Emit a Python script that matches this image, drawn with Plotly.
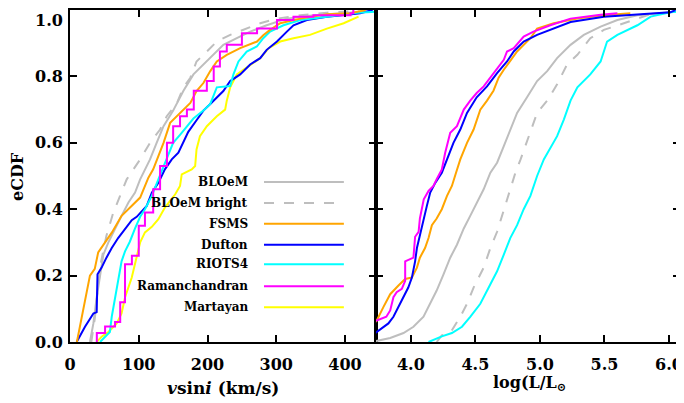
import plotly.graph_objects as go

# ---------------- data ----------------
# Left panel: vsini (km/s) vs eCDF
bloem_v_x = [29, 34, 38.8, 43.7, 48.5, 55.8, 65.5, 75, 85, 94.6, 102, 109, 116.4, 126, 136, 150, 165, 179.5, 194, 208.6, 223, 242.6, 262, 286, 315, 354, 403, 441]
bloem_v_y = [0.0, 0.056, 0.134, 0.204, 0.263, 0.30, 0.342, 0.38, 0.42, 0.45, 0.49, 0.52, 0.55, 0.60, 0.65, 0.697, 0.757, 0.806, 0.836, 0.865, 0.895, 0.915, 0.935, 0.954, 0.974, 0.984, 0.992, 0.997]

bright_v_x = [31, 36, 40, 45, 53, 63, 72.8, 82.5, 102, 116.4, 131, 140.7, 155, 165, 175, 184, 199, 213.5, 233, 257, 276.6, 301, 335, 373.6, 420]
bright_v_y = [0.0, 0.07, 0.15, 0.24, 0.32, 0.39, 0.44, 0.49, 0.55, 0.60, 0.64, 0.68, 0.717, 0.767, 0.796, 0.845, 0.875, 0.905, 0.925, 0.944, 0.96, 0.974, 0.984, 0.992, 0.997]

fsms_v_x = [10, 21.8, 29, 36, 41, 51, 61, 75, 90, 102, 114, 121, 128.5, 136, 145.6, 160, 175, 184, 194, 204, 213.5, 228, 247.5, 272, 281, 291, 305.7, 335, 373.6, 407.6, 430]
fsms_v_y = [0.0, 0.12, 0.20, 0.22, 0.27, 0.30, 0.33, 0.38, 0.41, 0.435, 0.495, 0.52, 0.56, 0.60, 0.66, 0.69, 0.72, 0.756, 0.78, 0.816, 0.845, 0.865, 0.885, 0.905, 0.924, 0.94, 0.96, 0.974, 0.987, 0.99, 1.0]

dufton_v_x = [9.7, 21.8, 34, 38.8, 40, 46, 53, 60.7, 70, 80, 89.8, 97, 106.7, 111.6, 119, 128.5, 138, 148, 157.6, 165, 172, 184, 194, 204, 213.5, 223, 233, 247.5, 262, 276.6, 286, 301, 315, 325, 344.5, 373.6, 402.8, 422, 440]
dufton_v_y = [0.0, 0.046, 0.086, 0.09, 0.204, 0.224, 0.254, 0.283, 0.313, 0.342, 0.367, 0.377, 0.397, 0.41, 0.45, 0.48, 0.52, 0.55, 0.57, 0.60, 0.633, 0.668, 0.697, 0.717, 0.737, 0.756, 0.786, 0.806, 0.836, 0.855, 0.88, 0.905, 0.934, 0.954, 0.97, 0.98, 0.986, 0.99, 1.0]

riots_v_x = [43.7, 58, 60.7, 65.5, 70.3, 75, 80, 87, 94.6, 102, 109, 119, 128.5, 140.7, 150, 160, 170, 179.5, 194, 204, 213.5, 233, 237.7, 245, 257, 271.7, 281, 291, 310.5, 335, 373.6, 417, 445]
riots_v_y = [0.0, 0.03, 0.076, 0.134, 0.184, 0.243, 0.273, 0.302, 0.342, 0.377, 0.40, 0.44, 0.49, 0.55, 0.60, 0.624, 0.65, 0.673, 0.697, 0.717, 0.767, 0.771, 0.806, 0.845, 0.875, 0.89, 0.915, 0.935, 0.954, 0.97, 0.98, 0.992, 0.995]

raman_v_x = [38, 39, 51, 65.5, 73, 80, 90, 100, 109, 121, 131, 141, 150, 160, 170, 180, 199, 209, 218, 228, 250, 272, 301, 325, 354, 408, 412]
raman_v_y = [0.0, 0.027, 0.047, 0.06, 0.12, 0.234, 0.26, 0.35, 0.39, 0.46, 0.53, 0.60, 0.65, 0.68, 0.70, 0.757, 0.786, 0.83, 0.875, 0.895, 0.93, 0.944, 0.97, 0.98, 0.984, 0.99, 1.0]

marta_v_x = [38.8, 46, 55.8, 68, 75, 80, 89.8, 97, 102, 109, 119, 128.5, 138, 153, 160, 162.5, 177, 182, 184, 189, 199, 213.5, 225.6, 228, 233, 242.6, 257, 276.6, 289, 305.7, 325, 349, 373.6, 398, 419.6]
marta_v_y = [0.0, 0.016, 0.03, 0.056, 0.086, 0.134, 0.194, 0.254, 0.30, 0.33, 0.347, 0.37, 0.405, 0.445, 0.47, 0.505, 0.52, 0.53, 0.58, 0.62, 0.65, 0.68, 0.70, 0.727, 0.767, 0.806, 0.826, 0.855, 0.885, 0.905, 0.915, 0.925, 0.944, 0.96, 0.98]

# Right panel: log(L/Lsun) vs eCDF
bloem_l_x = [3.70, 3.84, 3.943, 4.02, 4.098, 4.15, 4.2, 4.253, 4.305, 4.357, 4.41, 4.46, 4.51, 4.564, 4.616, 4.668, 4.72, 4.77, 4.823, 4.9, 4.978, 5.056, 5.133, 5.237, 5.34, 5.47, 5.6, 5.755, 6.01, 6.2]
bloem_l_y = [0.0, 0.012, 0.027, 0.046, 0.076, 0.115, 0.155, 0.204, 0.254, 0.293, 0.342, 0.38, 0.42, 0.46, 0.51, 0.54, 0.59, 0.64, 0.69, 0.737, 0.786, 0.816, 0.855, 0.895, 0.925, 0.95, 0.97, 0.984, 0.994, 1.0]

bright_l_x = [4.2, 4.24, 4.305, 4.383, 4.435, 4.486, 4.564, 4.616, 4.668, 4.72, 4.77, 4.81, 4.85, 4.926, 4.978, 5.056, 5.133, 5.21, 5.29, 5.39, 5.495, 5.65, 5.83, 6.05]
bright_l_y = [0.0, 0.02, 0.027, 0.076, 0.115, 0.164, 0.224, 0.283, 0.332, 0.40, 0.46, 0.51, 0.55, 0.63, 0.69, 0.727, 0.776, 0.836, 0.865, 0.915, 0.94, 0.96, 0.984, 0.995]

fsms_l_x = [3.70, 3.736, 3.787, 3.84, 3.904, 3.956, 4.008, 4.047, 4.07, 4.11, 4.137, 4.163, 4.2, 4.24, 4.28, 4.318, 4.35, 4.383, 4.435, 4.486, 4.538, 4.59, 4.64, 4.68, 4.72, 4.77, 4.823, 4.926, 4.978, 5.107, 5.29, 5.495, 5.7]
fsms_l_y = [0.05, 0.065, 0.105, 0.144, 0.17, 0.19, 0.194, 0.224, 0.254, 0.283, 0.313, 0.352, 0.372, 0.40, 0.44, 0.47, 0.51, 0.55, 0.60, 0.64, 0.70, 0.727, 0.757, 0.796, 0.82, 0.845, 0.875, 0.915, 0.944, 0.96, 0.974, 0.984, 0.99]

dufton_l_x = [3.70, 3.736, 3.787, 3.826, 3.865, 3.904, 3.943, 3.98, 4.008, 4.033, 4.047, 4.07, 4.098, 4.124, 4.15, 4.19, 4.24, 4.28, 4.33, 4.383, 4.435, 4.51, 4.59, 4.668, 4.745, 4.797, 4.874, 4.978, 5.107, 5.237, 5.495, 5.755, 6.01, 6.05]
dufton_l_y = [0.02, 0.03, 0.046, 0.056, 0.076, 0.105, 0.135, 0.164, 0.194, 0.243, 0.283, 0.322, 0.372, 0.41, 0.45, 0.48, 0.51, 0.55, 0.60, 0.64, 0.69, 0.737, 0.77, 0.81, 0.845, 0.875, 0.905, 0.925, 0.944, 0.964, 0.98, 0.986, 0.993, 1.0]

riots_l_x = [4.137, 4.24, 4.318, 4.396, 4.46, 4.538, 4.616, 4.668, 4.72, 4.77, 4.823, 4.874, 4.926, 4.978, 5.03, 5.133, 5.185, 5.237, 5.29, 5.39, 5.47, 5.52, 5.6, 5.755, 5.858, 5.96, 6.01, 6.2]
riots_l_y = [0.0, 0.017, 0.027, 0.046, 0.076, 0.115, 0.174, 0.213, 0.263, 0.313, 0.352, 0.40, 0.44, 0.50, 0.55, 0.62, 0.67, 0.727, 0.767, 0.806, 0.845, 0.905, 0.925, 0.954, 0.98, 0.99, 0.993, 1.0]

raman_l_x = [3.70, 3.736, 3.81, 3.84, 3.865, 3.89, 3.93, 3.956, 3.956, 4.02, 4.033, 4.06, 4.07, 4.1, 4.137, 4.175, 4.2, 4.24, 4.266, 4.305, 4.357, 4.41, 4.46, 4.51, 4.564, 4.64, 4.72, 4.745, 4.797, 4.874, 4.95, 5.08, 5.237, 5.47, 5.6]
raman_l_y = [0.065, 0.065, 0.076, 0.095, 0.135, 0.15, 0.16, 0.184, 0.243, 0.254, 0.317, 0.332, 0.372, 0.43, 0.455, 0.47, 0.49, 0.52, 0.57, 0.63, 0.65, 0.70, 0.727, 0.75, 0.77, 0.81, 0.85, 0.875, 0.885, 0.92, 0.935, 0.954, 0.974, 0.986, 0.99]

x_ticks_v = [0, 100, 200, 300, 400]
x_ticks_l = [4.0, 4.5, 5.0, 5.5, 6.0]
x_tick_labels_l = ["4.0", "4.5", "5.0", "5.5", "6.0"]
y_ticks = [0.0, 0.2, 0.4, 0.6, 0.8]
y_tick_labels = ["0.0", "0.2", "0.4", "0.6", "0.8"]
y_top_label = "1.0"

legend_names = ["BLOeM", "BLOeM bright", "FSMS", "Dufton", "RIOTS4", "Ramanchandran", "Martayan"]

# ---------------- styles ----------------
GRAY = "#BEBEBE"
ORANGE = "#FFA500"
BLUE = "#0000FF"
CYAN = "#00FFFF"
MAGENTA = "#FF00FF"
YELLOW = "#FFFF00"
FONT = "DejaVu Serif"
LW = 2

styles = {
    "BLOeM": dict(color=GRAY, dash="solid"),
    "BLOeM bright": dict(color=GRAY, dash="10px,10px"),
    "FSMS": dict(color=ORANGE, dash="solid"),
    "Dufton": dict(color=BLUE, dash="solid"),
    "RIOTS4": dict(color=CYAN, dash="solid"),
    "Ramanchandran": dict(color=MAGENTA, dash="solid"),
    "Martayan": dict(color=YELLOW, dash="solid"),
}

fig = go.Figure()

left = [
    ("BLOeM", bloem_v_x, bloem_v_y, "linear"),
    ("BLOeM bright", bright_v_x, bright_v_y, "linear"),
    ("Martayan", marta_v_x, marta_v_y, "linear"),
    ("Dufton", dufton_v_x, dufton_v_y, "linear"),
    ("RIOTS4", riots_v_x, riots_v_y, "linear"),
    ("FSMS", fsms_v_x, fsms_v_y, "linear"),
    ("Ramanchandran", raman_v_x, raman_v_y, "hv"),
]
for name, xs, ys, shape in left:
    st = styles[name]
    fig.add_trace(go.Scatter(x=xs, y=ys, mode="lines", name=name, showlegend=False,
                             line=dict(color=st["color"], dash=st["dash"], width=LW, shape=shape),
                             xaxis="x", yaxis="y", hoverinfo="skip"))

right = [
    ("BLOeM", bloem_l_x, bloem_l_y),
    ("BLOeM bright", bright_l_x, bright_l_y),
    ("RIOTS4", riots_l_x, riots_l_y),
    ("FSMS", fsms_l_x, fsms_l_y),
    ("Dufton", dufton_l_x, dufton_l_y),
    ("Ramanchandran", raman_l_x, raman_l_y),
]
for name, xs, ys in right:
    st = styles[name]
    fig.add_trace(go.Scatter(x=xs, y=ys, mode="lines", name=name, showlegend=False,
                             line=dict(color=st["color"], dash=st["dash"], width=LW),
                             xaxis="x2", yaxis="y2", hoverinfo="skip"))

# manual legend (text to the left of the line sample)
leg_y = [0.482, 0.419, 0.356, 0.293, 0.234, 0.168, 0.105]
shapes = []
annotations = []
for name, yy in zip(legend_names, leg_y):
    st = styles[name]
    shapes.append(dict(type="line", xref="x domain", yref="y domain", x0=0.634, x1=0.895,
                       y0=yy, y1=yy, line=dict(color=st["color"], width=LW, dash=st["dash"])))
    annotations.append(dict(text=name, xref="x domain", yref="y domain", x=0.588, y=yy,
                            xanchor="right", yanchor="middle", showarrow=False,
                            font=dict(family=FONT, size=12, color="black", weight="bold")))

# top y tick label (placed just below the figure edge, as in the reference)
annotations.append(dict(text=y_top_label, xref="paper", yref="paper", x=0, y=1,
                        xanchor="right", yanchor="middle", xshift=-6, yshift=-10, borderpad=0,
                        showarrow=False,
                        font=dict(family=FONT, size=16, color="black", weight="bold")))

# axis titles
annotations.append(dict(text="eCDF", xref="paper", yref="paper", x=-0.0852, y=0.497,
                        textangle=-90, showarrow=False, xanchor="center", yanchor="middle",
                        font=dict(family=FONT, size=16, color="black", weight="bold")))
annotations.append(dict(text="<i>v</i>sin<i>i</i> (km/s)", xref="x domain", yref="paper", x=0.5, y=-0.14,
                        showarrow=False, xanchor="center", yanchor="middle",
                        font=dict(family=FONT, size=17, color="black", weight="bold")))
annotations.append(dict(text="log(L/L<sub>⊙</sub>", xref="x2 domain", yref="paper", x=0.506, y=-0.126,
                        showarrow=False, xanchor="center", yanchor="middle",
                        font=dict(family=FONT, size=16, color="black", weight="bold")))

axis_common = dict(showline=True, linecolor="black", linewidth=2, mirror="ticks",
                   ticks="inside", ticklen=7, tickwidth=2, tickcolor="black",
                   showgrid=False, zeroline=False,
                   tickfont=dict(family=FONT, size=16, color="black", weight="bold"))

split = 306 / 610
# the page body adds an 8px offset, so the figure is 8px smaller and margins shifted
fig.update_layout(
    width=676, height=395,
    margin=dict(l=62, r=4, t=0, b=61),
    paper_bgcolor="white", plot_bgcolor="white",
    showlegend=False,
    xaxis=dict(domain=[0, split], range=[0, 445], tickvals=x_ticks_v, anchor="y",
               ticklabelstandoff=7, **axis_common),
    yaxis=dict(domain=[0, 1], range=[0, 1.0], tickvals=y_ticks, ticktext=y_tick_labels, anchor="x",
               ticklabelstandoff=2, **axis_common),
    xaxis2=dict(domain=[split, 1], range=[3.73, 6.085], tickvals=x_ticks_l, ticktext=x_tick_labels_l, anchor="y2",
                ticklabelstandoff=7, **axis_common),
    yaxis2=dict(domain=[0, 1], range=[0, 1.0], tickvals=y_ticks, showticklabels=False, anchor="x2", **axis_common),
    shapes=shapes,
    annotations=annotations,
)

fig.write_html("out.html")
